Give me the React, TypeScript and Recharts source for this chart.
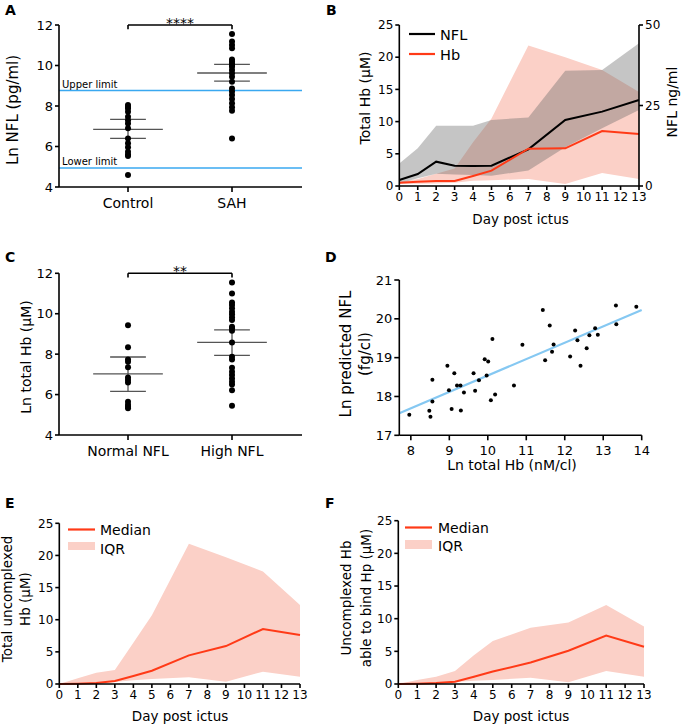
import React from 'react'
import {
  ScatterChart, Scatter, ComposedChart, Area, Line, XAxis, YAxis, ReferenceLine,
} from 'recharts'

// Six-panel figure: NFL / haemoglobin after SAH. Each panel is its own chart,
// placed absolutely; titles and legends live in one SVG overlay on top.

const FONT = '"DejaVu Sans", sans-serif'
const RED = '#ff3a17'
const PINK = '#fbd0c7'
const GREY = '#666666'
const BLUE = '#3aa8f0'
const BLUE_LIGHT = '#85c8f2'
const MEAN = '#555555'

// ---- A: Ln NFL by group
const groupsA = ['Control', 'SAH']
const controlNfl = [8.05, 7.95, 7.88, 7.72, 7.47, 7.3, 7.14, 6.9, 6.4, 6.16, 5.96, 5.74, 5.6, 5.53, 4.59]
const sahNfl = [11.56, 11.18, 11.01, 10.85, 10.3, 10.2, 10.1, 10.0, 9.94, 9.78, 9.62, 9.45, 9.2, 8.87, 8.71, 8.54, 8.35, 8.13, 7.94, 7.77, 6.4]
const meanA = [6.85, 9.63]
const lowA = [6.4, 9.23]
const highA = [7.34, 10.06]
const upperLimit = 8.76
const lowerLimit = 4.94

// ---- C: Ln total Hb by NFL group
const groupsC = ['Normal NFL', 'High NFL']
const normalHb = [9.43, 8.34, 7.74, 7.63, 7.35, 6.85, 6.72, 6.6, 5.65, 5.5, 5.4, 5.32]
const highHb = [11.54, 11.0, 10.55, 10.43, 10.27, 10.1, 9.97, 9.82, 9.69, 9.36, 9.28, 9.16, 8.58, 7.87, 7.74, 7.33, 7.13, 6.97, 6.8, 6.64, 6.5, 6.22, 5.45]
const meanC = [7.02, 8.58]
const lowC = [6.16, 7.94]
const highC = [7.86, 9.2]

// ---- D: Ln predicted NFL vs Ln total Hb
const hbD = [7.96, 8.48, 8.51, 8.56, 8.56, 8.95, 8.99, 9.06, 9.13, 9.2, 9.29, 9.3, 9.38, 9.63, 9.67, 9.77, 9.92, 9.97, 10.01, 10.08, 10.12, 10.19, 10.68, 10.9, 11.43, 11.49, 11.61, 11.67, 11.71, 12.14, 12.27, 12.33, 12.41, 12.57, 12.64, 12.79, 12.86, 13.33, 13.34, 13.86]
const nflD = [17.53, 17.63, 17.48, 18.43, 17.87, 18.79, 18.16, 17.68, 18.6, 18.28, 18.28, 17.64, 18.1, 18.6, 18.15, 18.42, 18.96, 18.54, 18.9, 17.9, 19.48, 18.05, 18.28, 19.33, 20.23, 18.93, 19.83, 19.15, 19.34, 19.03, 19.7, 19.45, 18.79, 19.24, 19.58, 19.76, 19.59, 20.34, 19.86, 20.31]
const fitD = [{ x: 7.7, y: 17.57 }, { x: 14, y: 20.23 }]

// ---- B, E, F: time courses (day post ictus)
const days = [0, 1, 2, 3, 4, 5, 7, 9, 11, 13]
const dayTicks = [0, 1, 2, 3, 4, 5, 6, 7, 8, 9, 10, 11, 12, 13]

const hbMedianB = [0.52, 0.67, 0.78, 0.78, 1.55, 2.38, 5.8, 5.85, 8.54, 8.07]
const hbLowB = [0.3, 0.35, 0.4, 0.5, 0.8, 0.9, 1.1, 0.3, 2.0, 1.1]
const hbHighB = [0.6, 1.1, 1.9, 2.7, 6.8, 10.5, 21.8, 20.0, 18.0, 14.6]
const nflMedian = [1.86, 3.72, 7.56, 6.32, 6.2, 6.32, 11.4, 20.5, 23.1, 26.7]
const nflLow = [0.8, 2.4, 3.8, 3.6, 3.4, 3.2, 4.8, 12.0, 17.9, 23.6]
const nflHigh = [7.0, 11.7, 18.7, 18.7, 18.7, 20.5, 21.3, 35.8, 36.0, 44.3]

const eMedian = [0, 0.05, 0.15, 0.47, 1.25, 2.07, 4.46, 5.9, 8.56, 7.62]
const eLow = [0, 0.03, 0.1, 0.3, 0.6, 0.78, 1.04, 0.36, 1.92, 1.14]
const eHigh = [0, 0.9, 1.76, 2.18, 6.4, 10.7, 21.8, 19.7, 17.5, 12.3]

const fMedian = [0, 0.05, 0.15, 0.36, 1.1, 1.9, 3.3, 5.1, 7.4, 5.7]
const fLow = [0, 0.03, 0.1, 0.3, 0.5, 0.6, 0.97, 0.25, 2.0, 1.1]
const fHigh = [0, 0.6, 1.1, 2.0, 4.4, 6.6, 8.6, 9.4, 12.1, 8.8]

const hbTicks = [0, 5, 10, 15, 20, 25]

const axisStroke = { stroke: '#000', strokeWidth: 1.6 }
const tick = (size: number) => ({ fontSize: size, fill: '#000', fontFamily: FONT })

// category x positions: 0 and 1 inside [-0.6635, 1.673]
const GROUP_DOMAIN: [number, number] = [-0.6635, 1.673]

const dot = (r: number) => (p: any) => <circle cx={p.cx} cy={p.cy} r={r} fill="#000" />

function groupMarks(means: number[], lows: number[], highs: number[], id: string) {
  return means.flatMap((m, i) => [
    <ReferenceLine key={id + 'm' + i} segment={[{ x: i - 0.335, y: m }, { x: i + 0.335, y: m }]} stroke={MEAN} strokeWidth={1.3} />,
    <ReferenceLine key={id + 'l' + i} segment={[{ x: i - 0.172, y: lows[i] }, { x: i + 0.172, y: lows[i] }]} stroke={MEAN} strokeWidth={1.3} />,
    <ReferenceLine key={id + 'h' + i} segment={[{ x: i - 0.172, y: highs[i] }, { x: i + 0.172, y: highs[i] }]} stroke={MEAN} strokeWidth={1.3} />,
    <ReferenceLine key={id + 'v' + i} segment={[{ x: i, y: lows[i] }, { x: i, y: highs[i] }]} stroke={MEAN} strokeWidth={1.3} />,
  ])
}

function bracket(stars: string, top: number, id: string) {
  return [
    <ReferenceLine key={id + 'b'} segment={[{ x: 0, y: top }, { x: 1, y: top }]} stroke="#000" strokeWidth={1.6}
      label={{ value: stars, position: 'top', offset: -3, fontSize: 14, fill: '#000', fontFamily: FONT }} />,
    <ReferenceLine key={id + 'l'} segment={[{ x: 0, y: top }, { x: 0, y: top - 0.21 }]} stroke="#000" strokeWidth={1.6} />,
    <ReferenceLine key={id + 'r'} segment={[{ x: 1, y: top }, { x: 1, y: top - 0.21 }]} stroke="#000" strokeWidth={1.6} />,
  ]
}

function PanelA() {
  return (
    <ScatterChart width={340} height={240} margin={{ top: 25, right: 38, bottom: 23, left: 19 }}>
      <XAxis type="number" dataKey="x" domain={GROUP_DOMAIN} ticks={[0, 1]} interval={0}
        tickFormatter={(v: number) => groupsA[v]} axisLine={axisStroke} tickLine={axisStroke}
        tickSize={5} tickMargin={6} tick={tick(14)} height={30} />
      <YAxis type="number" dataKey="y" domain={[4, 12]} ticks={[4, 6, 8, 10, 12]} interval={0}
        axisLine={axisStroke} tickLine={axisStroke} tickSize={4} tickMargin={2} tick={tick(13)} width={40} />
      <ReferenceLine y={upperLimit} stroke={BLUE} strokeWidth={1.5}
        label={{ value: 'Upper limit', position: 'insideBottomLeft', offset: 3, fontSize: 10, fill: '#000', fontFamily: FONT }} />
      <ReferenceLine y={lowerLimit} stroke={BLUE} strokeWidth={1.5}
        label={{ value: 'Lower limit', position: 'insideBottomLeft', offset: 3, fontSize: 10, fill: '#000', fontFamily: FONT }} />
      <Scatter data={controlNfl.map(v => ({ x: 0, y: v }))} shape={dot(3)} isAnimationActive={false} />
      <Scatter data={sahNfl.map(v => ({ x: 1, y: v }))} shape={dot(3)} isAnimationActive={false} />
      {groupMarks(meanA, lowA, highA, 'a')}
      {bracket('****', 12, 'a')}
    </ScatterChart>
  )
}

function PanelC() {
  return (
    <ScatterChart width={340} height={240} margin={{ top: 33.3, right: 38, bottom: 15, left: 19 }}>
      <XAxis type="number" dataKey="x" domain={GROUP_DOMAIN} ticks={[0, 1]} interval={0}
        tickFormatter={(v: number) => groupsC[v]} axisLine={axisStroke} tickLine={axisStroke}
        tickSize={5} tickMargin={6.5} tick={tick(14)} height={30} />
      <YAxis type="number" dataKey="y" domain={[4, 12]} ticks={[4, 6, 8, 10, 12]} interval={0}
        axisLine={axisStroke} tickLine={axisStroke} tickSize={4} tickMargin={2} tick={tick(13)} width={40} />
      <Scatter data={normalHb.map(v => ({ x: 0, y: v }))} shape={dot(3)} isAnimationActive={false} />
      <Scatter data={highHb.map(v => ({ x: 1, y: v }))} shape={dot(3)} isAnimationActive={false} />
      {groupMarks(meanC, lowC, highC, 'c')}
      {bracket('**', 12, 'c')}
    </ScatterChart>
  )
}

function PanelD() {
  return (
    <ScatterChart width={344} height={240} margin={{ top: 40, right: 42.3, bottom: 14.7, left: 19.3 }}>
      <XAxis type="number" dataKey="x" domain={[7.7, 14]} ticks={[8, 9, 10, 11, 12, 13, 14]} interval={0}
        axisLine={axisStroke} tickLine={axisStroke} tickSize={5} tickMargin={5} tick={tick(13)} height={30} />
      <YAxis type="number" dataKey="y" domain={[17, 21]} ticks={[17, 18, 19, 20, 21]} interval={0}
        axisLine={axisStroke} tickLine={axisStroke} tickSize={5} tickMargin={2} tick={tick(13)} width={40} />
      <ReferenceLine segment={fitD} stroke={BLUE_LIGHT} strokeWidth={2.2} />
      <Scatter data={hbD.map((x, i) => ({ x, y: nflD[i] }))} shape={dot(2)} isAnimationActive={false} />
    </ScatterChart>
  )
}

function PanelB() {
  const data = days.map((d, i) => ({
    day: d, hb: hbMedianB[i], hbIqr: [hbLowB[i], hbHighB[i]],
    nfl: nflMedian[i], nflIqr: [nflLow[i], nflHigh[i]],
  }))
  return (
    <ComposedChart width={344} height={240} data={data} margin={{ top: 25, right: 15, bottom: 24, left: 19.3 }}>
      <XAxis type="number" dataKey="day" domain={[0, 13]} ticks={dayTicks} interval={0}
        axisLine={axisStroke} tickLine={axisStroke} tickSize={4} tickMargin={2} tick={tick(12)} height={30} />
      <YAxis yAxisId="hb" domain={[0, 25]} ticks={hbTicks} interval={0}
        axisLine={axisStroke} tickLine={axisStroke} tickSize={4} tickMargin={2} tick={tick(12)} width={40} />
      <YAxis yAxisId="nfl" orientation="right" domain={[0, 50]} ticks={[0, 25, 50]} interval={0}
        axisLine={axisStroke} tickLine={axisStroke} tickSize={4} tickMargin={2} tick={tick(12)} width={30} />
      <Area yAxisId="hb" dataKey="hbIqr" stroke="none" fill={PINK} fillOpacity={1} isAnimationActive={false} />
      <Area yAxisId="nfl" dataKey="nflIqr" stroke="none" fill={GREY} fillOpacity={0.38} isAnimationActive={false} />
      <Line yAxisId="nfl" dataKey="nfl" stroke="#000" strokeWidth={2} dot={false} isAnimationActive={false} />
      <Line yAxisId="hb" dataKey="hb" stroke={RED} strokeWidth={2} dot={false} isAnimationActive={false} />
    </ComposedChart>
  )
}

// E and F: same median + IQR layout, only the plot box differs
function MedianPanel({ median, low, high, width, top, right, left }: {
  median: number[]; low: number[]; high: number[]; width: number; top: number; right: number; left: number
}) {
  const data = days.map((d, i) => ({ day: d, median: median[i], iqr: [low[i], high[i]] }))
  return (
    <ComposedChart width={width} height={248} data={data} margin={{ top, right, bottom: 14, left }}>
      <XAxis type="number" dataKey="day" domain={[0, 13]} ticks={dayTicks} interval={0}
        axisLine={axisStroke} tickLine={axisStroke} tickSize={4} tickMargin={2} tick={tick(12)} height={30} />
      <YAxis domain={[0, 25]} ticks={hbTicks} interval={0}
        axisLine={axisStroke} tickLine={axisStroke} tickSize={4} tickMargin={2} tick={tick(12)} width={40} />
      <Area dataKey="iqr" stroke="none" fill={PINK} fillOpacity={1} isAnimationActive={false} />
      <Line dataKey="median" stroke={RED} strokeWidth={2} dot={false} isAnimationActive={false} />
    </ComposedChart>
  )
}

function VText({ x, y, size, children }: { x: number; y: number; size: number; children: React.ReactNode }) {
  return (
    <text x={x} y={y} fontSize={size} textAnchor="middle" transform={`rotate(-90 ${x} ${y})`}>{children}</text>
  )
}

function Overlay() {
  return (
    <svg width={684} height={728} style={{ position: 'absolute', left: 0, top: 0, pointerEvents: 'none' }}
      fontFamily={FONT} fill="#000">
      {/* panel letters */}
      <g fontWeight="bold" fontSize={14}>
        <text x={5} y={15}>A</text>
        <text x={326} y={15}>B</text>
        <text x={5} y={262}>C</text>
        <text x={325} y={262}>D</text>
        <text x={5} y={508}>E</text>
        <text x={325} y={508}>F</text>
      </g>

      {/* A */}
      <VText x={18} y={110} size={15}>Ln NFL (pg/ml)</VText>

      {/* B */}
      <VText x={370} y={98} size={14}>Total Hb (µM)</VText>
      <VText x={677} y={102} size={14}>NFL ng/ml</VText>
      <text x={520.5} y={224} fontSize={13.5} textAnchor="middle">Day post ictus</text>
      <line x1={409} x2={435} y1={34} y2={34} stroke="#000" strokeWidth={2.2} />
      <text x={440} y={39.5} fontSize={14.5}>NFL</text>
      <line x1={409} x2={435} y1={54} y2={54} stroke={RED} strokeWidth={2.2} />
      <text x={440} y={59.5} fontSize={14.5}>Hb</text>

      {/* C */}
      <VText x={31} y={357} size={14}>Ln total Hb (µM)</VText>

      {/* D */}
      <VText x={351} y={354} size={15}>Ln predicted NFL</VText>
      <VText x={370} y={354} size={15}>(fg/cl)</VText>
      <text x={512} y={470} fontSize={14} textAnchor="middle">Ln total Hb (nM/cl)</text>

      {/* E */}
      <VText x={12} y={599} size={13.5}>Total uncomplexed</VText>
      <VText x={30} y={599} size={13.5}>Hb (µM)</VText>
      <text x={180} y={720.5} fontSize={13.5} textAnchor="middle">Day post ictus</text>
      <line x1={68} x2={95} y1={529.5} y2={529.5} stroke={RED} strokeWidth={2.2} />
      <text x={100} y={535} fontSize={14}>Median</text>
      <rect x={68} y={542} width={27} height={8} fill={PINK} />
      <text x={100} y={554} fontSize={14}>IQR</text>

      {/* F */}
      <VText x={350.5} y={598} size={13.5}>Uncomplexed Hb</VText>
      <VText x={370.5} y={598} size={13.5}>able to bind Hp (µM)</VText>
      <text x={521} y={720.5} fontSize={13.5} textAnchor="middle">Day post ictus</text>
      <line x1={405} x2={432} y1={527.5} y2={527.5} stroke={RED} strokeWidth={2.2} />
      <text x={438} y={533} fontSize={14}>Median</text>
      <rect x={405} y={540} width={27} height={9} fill={PINK} />
      <text x={438} y={551} fontSize={14}>IQR</text>
    </svg>
  )
}

export default function App() {
  return (
    <div style={{ position: 'absolute', left: 0, top: 0, width: 684, height: 728, background: '#fff', fontFamily: FONT }}>
      <div style={{ position: 'absolute', left: 0, top: 0 }}><PanelA /></div>
      <div style={{ position: 'absolute', left: 340, top: 0 }}><PanelB /></div>
      <div style={{ position: 'absolute', left: 0, top: 240 }}><PanelC /></div>
      <div style={{ position: 'absolute', left: 340, top: 240 }}><PanelD /></div>
      <div style={{ position: 'absolute', left: 0, top: 480 }}>
        <MedianPanel median={eMedian} low={eLow} high={eHigh} width={340} top={43.3} right={40} left={19.3} />
      </div>
      <div style={{ position: 'absolute', left: 340, top: 480 }}>
        <MedianPanel median={fMedian} low={fLow} high={fHigh} width={344} top={40.7} right={40} left={18.3} />
      </div>
      <Overlay />
    </div>
  )
}
